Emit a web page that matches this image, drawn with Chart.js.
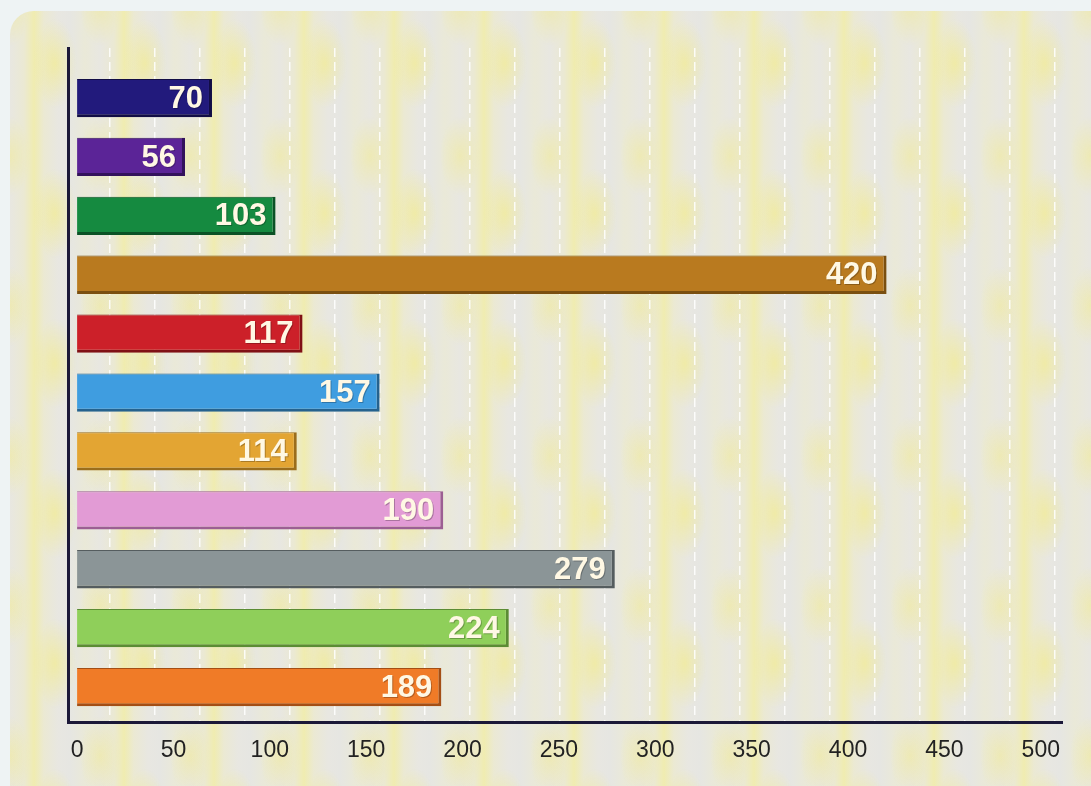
<!DOCTYPE html>
<html>
<head>
<meta charset="utf-8">
<script src="https://cdn.jsdelivr.net/npm/chart.js@4"></script>
<style>
  html, body { margin:0; padding:0; width:1091px; height:786px; overflow:hidden; background:#eef3f4; }
  #panel {
    position:absolute; left:10px; top:11px; width:1110px; height:800px; border-radius:24px;
    background:
      radial-gradient(ellipse 22px 45px at 50% 35%, rgba(248,238,100,0.45), rgba(248,238,100,0) 100%) 0 0 / 90px 150px,
      radial-gradient(ellipse 20px 40px at 50% 50%, rgba(248,238,100,0.35), rgba(248,238,100,0) 100%) 45px 70px / 90px 150px,
      repeating-linear-gradient(90deg,
        #e8e7e1 0px, #ebe9d3 14px, #f0ecb0 24px, #ebe9d3 34px, #e8e7e1 48px,
        #e6e6e2 60px, #eae9d8 75px, #e8e7e1 90px);
  }
  #wrap { position:absolute; left:0; top:0; width:1091px; height:786px; }
</style>
</head>
<body>
<div id="panel"></div>
<div id="wrap"><canvas id="c" width="1091" height="786"></canvas></div>
<script>
// ---- data ----
const positions = [0, 1, 2, 3, 4, 5, 6, 7, 8, 9, 10];
const values = [70, 56, 103, 420, 117, 157, 114, 190, 279, 224, 189];
const barColors = ['#221a7c', '#5b2497', '#158a40', '#b97a1f', '#cc2029', '#3f9de0', '#e3a533', '#e29bd5', '#8b9597', '#8fcf5a', '#f07b27'];
const edgeColors = ['#120d45', '#33125c', '#0b5226', '#7a4f10', '#801015', '#25628e', '#9a6d1c', '#9c5f93', '#555d5f', '#5b8c34', '#a44e14'];
const tickValues = [0, 50, 100, 150, 200, 250, 300, 350, 400, 450, 500];

const valueLabels = {
  id: 'valueLabels',
  afterDatasetsDraw(chart) {
    const ctx = chart.ctx;
    const meta = chart.getDatasetMeta(0);
    ctx.save();
    ctx.font = 'bold 31px "Liberation Sans", Arial, sans-serif';
    ctx.textAlign = 'right';
    ctx.textBaseline = 'middle';
    meta.data.forEach((bar, i) => {
      ctx.fillStyle = 'rgba(0,0,0,0.25)';
      ctx.fillText(String(values[i]), bar.x - 8, bar.y + 2);
      ctx.fillStyle = '#fff8e4';
      ctx.fillText(String(values[i]), bar.x - 9, bar.y + 1);
    });
    ctx.restore();
  }
};

new Chart(document.getElementById('c'), {
  type: 'bar',
  data: {
    datasets: [{
      data: values.map((v, i) => ({ x: v, y: positions[i] })),
      backgroundColor: barColors,
      borderColor: edgeColors,
      borderWidth: { top: 1, right: 3, bottom: 3, left: 0 },
      borderSkipped: false,
      categoryPercentage: 1,
      barPercentage: 0.65
    }]
  },
  plugins: [valueLabels],
  options: {
    indexAxis: 'y',
    responsive: false,
    animation: false,
    events: [],
    layout: { padding: { left: 68, right: 29, top: 48, bottom: 8 } },
    plugins: { legend: { display: false }, tooltip: { enabled: false } },
    scales: {
      y: {
        type: 'linear',
        reverse: true,
        offset: false,
        min: -0.85,
        max: 10.6,
        afterBuildTicks: (s) => { s.ticks = positions.map(v => ({ value: v })); },
        ticks: { display: false },
        grid: { display: false, drawTicks: false, offset: false },
        border: { display: true, color: '#1b1838', width: 3 }
      },
      x: {
        type: 'linear',
        min: -4.7,
        max: 511,
        afterBuildTicks: (s) => { s.ticks = tickValues.map(v => ({ value: v })); },
        ticks: {
          color: '#222222',
          padding: 14,
          font: { family: '"Liberation Sans", Arial, sans-serif', size: 23 }
        },
        grid: { display: false, drawTicks: false },
        border: { display: true, color: '#1b1838', width: 3 }
      },
      xg: {
        type: 'linear',
        position: 'top',
        min: -0.933,
        max: 21.156,
        afterBuildTicks: (s) => { const t = []; for (let k = 0; k <= 21; k++) t.push({ value: k }); s.ticks = t; },
        ticks: { display: false },
        grid: { display: true, drawTicks: false, color: 'rgba(255,255,255,0.85)', lineWidth: 1.5 },
        border: { display: false, dash: [9, 5] }
      }
    }
  }
});
</script>
</body>
</html>
